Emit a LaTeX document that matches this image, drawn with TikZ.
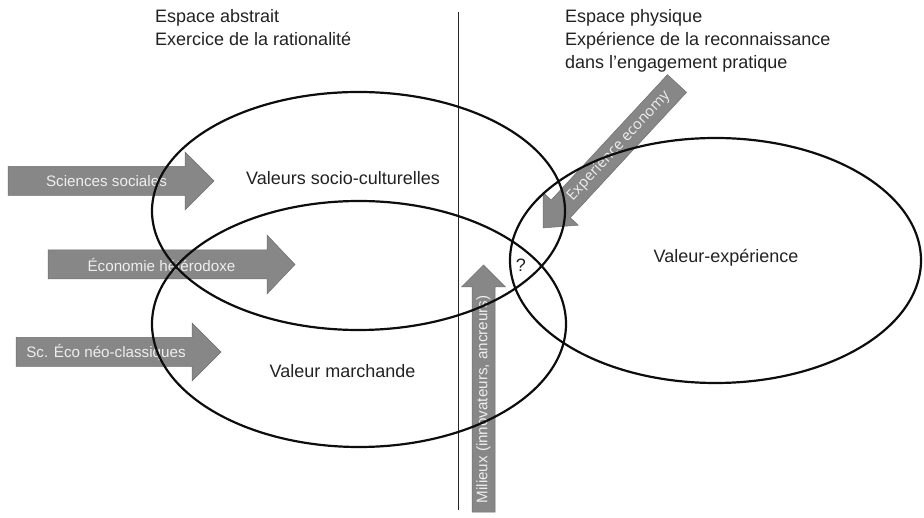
\documentclass[tikz,border=0pt]{standalone}
\usepackage{fontspec}
\setmainfont{Liberation Sans}
\newfontfamily\opensans{Open Sans}
\definecolor{arrfill}{HTML}{878787}
\definecolor{arrline}{HTML}{6E6E6E}
\definecolor{arrtext}{HTML}{EEEEEE}
\definecolor{txt}{HTML}{222222}
\tikzset{
  lbl/.style={font=\fontsize{18}{22}\selectfont, text=txt, inner sep=0pt},
  arrtxt/.style={font=\fontsize{15.2}{18}\selectfont, text=arrtext, inner sep=0pt},
  arrowbody/.style={fill=arrfill, draw=arrline, line width=0.5pt},
  ell/.style={draw=black!95, line width=2.2pt},
  divider/.style={draw=black!85, line width=0.9pt}
}
% #1 name, #2 tail centre, #3 angle, #4 length, #5 body half width,
% #6 head half width, #7 head length, #8 text options, #9 text
\newcommand\garrow[9]{%
  \begin{scope}[shift={#2}, rotate=#3]
    \draw[arrowbody] (0,-#5) -- ({#4-#7},-#5) -- ({#4-#7},-#6) -- (#4,0)
      -- ({#4-#7},#6) -- ({#4-#7},#5) -- (0,#5) -- cycle;
    \node[arrtxt,#8] (#1) at ({(#4-#7)/2},0) {#9};
  \end{scope}}
\begin{document}
\begin{tikzpicture}[x=1pt,y=-1pt]
\useasboundingbox (0,0) rectangle (924,518);
% divider
\coordinate (dtop) at (458,12);
\coordinate (dbot) at (458,510);
\draw[divider] (dtop) -- (dbot);
% headers
\node[lbl, anchor=base west] (hl1) at (155,23) {Espace abstrait};
\node[lbl, anchor=base west] (hl2) at (155,45.5) {Exercice de la rationalité};
\node[lbl, anchor=base west] (hr1) at (565,23) {Espace physique};
\node[lbl, anchor=base west] (hr2) at (565,46) {Expérience de la reconnaissance};
\node[lbl, anchor=base west] (hr3) at (565,69) {dans l’engagement pratique};
% arrows
\garrow{a1}{(8,181)}{0}{206}{14.5}{29}{29}{xshift=10pt}{Sciences sociales}
\garrow{a2}{(48,264.5)}{0}{247}{14.5}{29.5}{28}{xshift=4pt}{Économie hétérodoxe}
\garrow{a3}{(16,352)}{0}{205}{14.5}{29}{29}{xshift=2pt}{Sc. Éco néo-classiques}
\garrow{a4}{(483.5,512)}{90}{247}{11.5}{22}{22}{rotate=90}{Milieux (innovateurs, ancreurs)}
\garrow{a5}{(677,83.5)}{227.15}{197}{13}{24}{26}{rotate=47.15,font=\opensans\fontsize{14.8}{17}\selectfont}{Experience economy}
% ellipses
\draw[ell] (358.5,211) ellipse [x radius=206.5pt, y radius=119pt];
\draw[ell] (359,324) ellipse [x radius=207pt, y radius=123pt];
\draw[ell] (715.5,260.5) ellipse [x radius=205.5pt, y radius=122.5pt];
% labels
\node[lbl, anchor=base] (v1) at (343,185) {Valeurs socio-culturelles};
\node[lbl, anchor=base] (v2) at (342.5,378) {Valeur marchande};
\node[lbl, anchor=base] (v3) at (726,263) {Valeur-expérience};
\node[lbl, anchor=base] (q) at (521,272) {?};
\end{tikzpicture}
\end{document}
